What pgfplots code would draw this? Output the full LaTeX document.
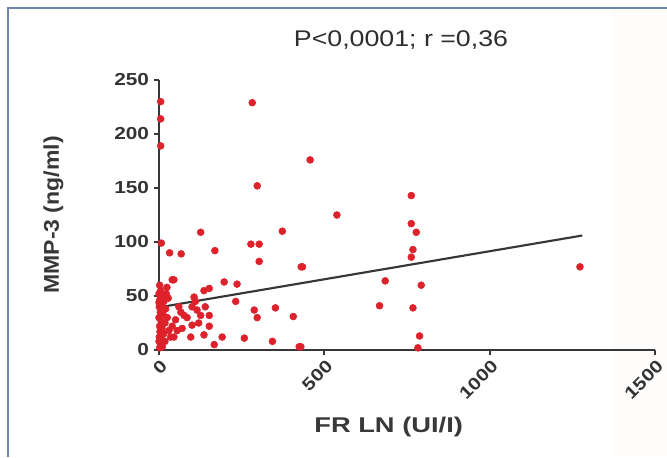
\documentclass[border=0pt]{standalone}
\usepackage{pgfplots}
\pgfplotsset{compat=1.18}
\usepackage{fontspec}
\setmainfont{Liberation Sans}
\newfontfamily\titlefont[FakeStretch=1.18]{Liberation Sans}
\newfontfamily\tickfont[FakeStretch=1.2]{Liberation Sans}
\newfontfamily\xlabfont[FakeStretch=1.28]{Liberation Sans}
\newfontfamily\ylabfont[FakeStretch=1.08]{Liberation Sans}
\definecolor{ptred}{RGB}{222,34,44}
\definecolor{axgray}{RGB}{55,55,55}
\definecolor{framec}{RGB}{110,135,175}
\begin{document}
\begin{tikzpicture}
\path[use as bounding box,fill=white] (0pt,0pt) rectangle (500.25pt,342.75pt);
\fill[white!98.5!orange] (460pt,0pt) rectangle (500.25pt,336.75pt);
\draw[framec,line width=1.2pt] (6pt,0pt) -- (6pt,336.75pt) -- (500.25pt,336.75pt);
\node[font=\titlefont\fontsize{17}{19}\selectfont,text=black!82] at (300.75pt,312.75pt) {P<0,0001; r =0,36};
\begin{axis}[
  at={(119.25pt,80.25pt)}, anchor=south west,
  scale only axis, width=372pt, height=202.5pt,
  xmin=0, xmax=1500, ymin=0, ymax=250,
  axis lines*=left,
  axis line style={axgray,line width=1.5pt},
  xtick={0,500,1000,1500}, ytick={0,50,100,150,200,250},
  tick align=outside, major tick length=4pt,
  tick style={axgray,line width=1.3pt},
  clip=false,
  /pgf/number format/assume math mode=true,
  /pgf/number format/set thousands separator={},
  ticklabel style={font=\tickfont\bfseries\fontsize{13}{15}\selectfont,text=black!80},
  xticklabel style={rotate=45,anchor=east,xshift=2pt,yshift=-7pt},
  xlabel={FR LN (UI/I)}, ylabel={MMP-3 (ng/ml)},
  xlabel style={font=\xlabfont\bfseries\fontsize{16}{18}\selectfont,text=black!78,
     at={(axis description cs:0.463,-0.285)},anchor=center},
  ylabel style={font=\ylabfont\bfseries\fontsize{16}{18}\selectfont,text=black!78,
     at={(axis description cs:-0.213,0.5)},anchor=center,rotate=0},
]
\addplot[only marks, mark=*, mark size=2.6pt, ptred, mark options={draw=ptred,fill=ptred}] coordinates {
(5,230)(5,214)(5,189)(282,229)(457,176)(297,152)
(126,109)(373,110)(7,99)(32,90)(67,89)(169,92)(278,98)(303,98)(303,82)(430,77)
(40,65)(152,57)(136,55)(197,63)(236,61)(106,49)(232,45)(66,35)(76,32)(115,37)
(126,32)(152,32)(288,37)(297,30)(352,39)(406,31)(100,23)(70,20)(152,22)(45,12)
(96,12)(136,14)(191,12)(258,11)(343,8)(167,5)(424,3)
(538,125)(763,143)(763,117)(778,109)(768,93)(763,86)(434,77)(684,64)(793,60)
(667,41)(768,39)(788,13)(783,2)(429,3)(1273,77)
(2,60)(5,55)(10,50)(3,47)(15,45)(8,42)(1,40)(20,38)(4,35)(12,33)(0,30)(6,27)
(18,25)(2,22)(9,20)(3,17)(14,15)(1,12)(7,10)(0,8)(5,5)(2,2)(25,30)(30,18)
(35,12)(22,52)(28,48)(40,22)(50,28)(24,58)(45,65)(0,52)(0,44)(10,3)(18,8)
(60,40)(85,30)(110,45)(120,25)(55,18)(140,40)(100,40)
};
\addplot[axgray, line width=1.6pt] coordinates {(0,39.5)(1280,106)};
\end{axis}
\end{tikzpicture}
\end{document}
